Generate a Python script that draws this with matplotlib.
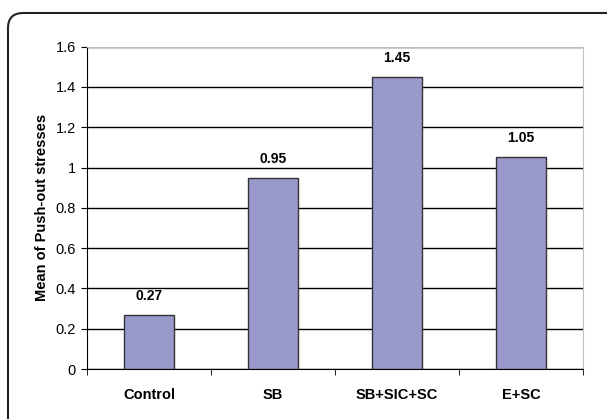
import matplotlib.pyplot as plt
from matplotlib.patches import FancyBboxPatch

groups = ['Control', 'SB', 'SB+SIC+SC', 'E+SC']
means = [0.27, 0.95, 1.45, 1.05]
yticks = [0, 0.2, 0.4, 0.6, 0.8, 1, 1.2, 1.4, 1.6]
ytick_labels = ['0', '0.2', '0.4', '0.6', '0.8', '1', '1.2', '1.4', '1.6']

plt.rcParams['font.family'] = ['Liberation Sans', 'DejaVu Sans']

fig = plt.figure(figsize=(6.07, 4.19), dpi=100)
fig.patch.set_facecolor('white')

# rounded frame around the whole chart
frame = FancyBboxPatch((8 / 607, -0.2), 1.2, (1 - 13 / 419) + 0.2,
                       boxstyle='round,pad=0,rounding_size=0.025',
                       mutation_aspect=607 / 419,
                       transform=fig.transFigure, facecolor='none',
                       edgecolor='#222222', linewidth=1.5, zorder=-1)
fig.patches.append(frame)

ax = fig.add_axes([87 / 607, 1 - 369 / 419, (583 - 87) / 607, (369 - 46.7) / 419])
ax.set_facecolor('white')

x = range(len(groups))
ax.bar(x, means, width=0.4, color='#9999cc', edgecolor='#333333', linewidth=1, zorder=3)
for xi, v in zip(x, means):
    ax.text(xi, v + 0.06, f'{v:.2f}', ha='center', va='bottom',
            fontsize=10, fontweight='bold', zorder=4)

ax.set_xlim(-0.5, len(groups) - 0.5)
ax.set_ylim(0, 1.6)
ax.set_yticks(yticks)
ax.set_yticklabels(ytick_labels, fontsize=10.5)
ax.yaxis.grid(True, color='black', linewidth=1)
ax.set_axisbelow(True)

ax.set_xticks(list(x))
ax.set_xticklabels(groups, fontsize=10.5, fontweight='bold')
ax.tick_params(axis='x', length=0, pad=14)
ax.set_xticks([i + 0.5 for i in range(-1, len(groups))], minor=True)
ax.tick_params(axis='x', which='minor', length=4, direction='out', color='black')
ax.tick_params(axis='y', length=4, direction='out', pad=4)

ax.spines['left'].set_color('black')
ax.spines['bottom'].set_color('black')
ax.spines['top'].set_color('#c0c0c0')
ax.spines['right'].set_color('#c0c0c0')

ax.set_ylabel('Mean of Push-out stresses', fontsize=10.5, fontweight='bold', labelpad=5)

fig.savefig('out.png', dpi=100)
